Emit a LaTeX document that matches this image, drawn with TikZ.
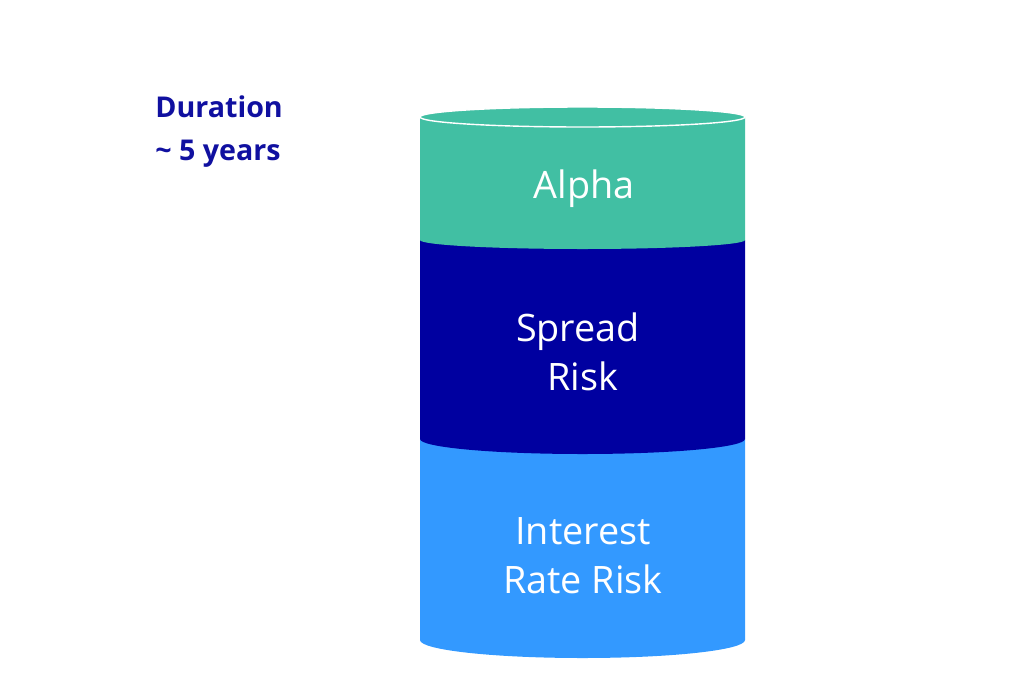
\documentclass[tikz,border=0pt]{standalone}
\usepackage{fontspec}
\setmainfont{Open Sans}
\definecolor{alphagreen}{HTML}{41BFA3}
\definecolor{spreadblue}{HTML}{0000A0}
\definecolor{rateblue}{HTML}{3399FF}
\definecolor{durblue}{HTML}{1010A0}
\tikzset{
  layerlabel/.style={text=white, align=center, font=\fontsize{21.5}{28}\selectfont},
}
\begin{document}
\begin{tikzpicture}[x=0.02cm, y=-0.02cm]
      \useasboundingbox (0,0) rectangle (1024,683);
      % Draw layers, bottom first
      \fill[rateblue] (420,439) -- (420,640) arc[start angle=180, end angle=0, x radius=162.5, y radius=18] -- (745,439) -- cycle;
      \fill[spreadblue] (420,240) -- (420,439) arc[start angle=180, end angle=0, x radius=162.5, y radius=15] -- (745,240) -- cycle;
      \fill[alphagreen] (420,117) -- (420,240) arc[start angle=180, end angle=0, x radius=162.5, y radius=9] -- (745,117) -- cycle;
      % Draw top
      \filldraw[fill=alphagreen, draw=white, line width=0.8pt] (582.5,117) ellipse[x radius=162.5, y radius=10];
      \node[layerlabel, anchor=base] (alpha) at (584,198) {Alpha};
      \node[layerlabel] (spread) at (578,352) {Spread\\ \ Risk};
      \node[layerlabel] (rate) at (583,556) {Interest\\Rate Risk};
      \node[text=durblue, align=left, anchor=base west, inner sep=0pt, font=\bfseries\fontsize{16.3}{24.4}\selectfont] (dur) at (155,160) {Duration\\\textasciitilde{} 5 years};
\end{tikzpicture}
\end{document}
